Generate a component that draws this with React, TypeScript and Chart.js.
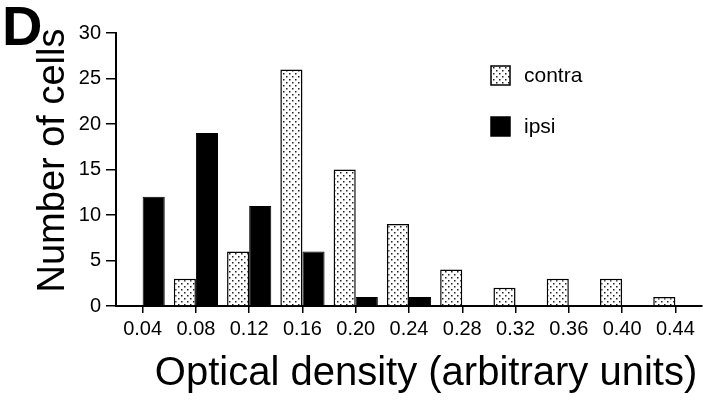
import React, { useEffect, useRef } from "react";
import { Chart, registerables } from "chart.js";

Chart.register(...registerables);

// Bin centres (optical density, arbitrary units)
const densityBins = ["0.04", "0.08", "0.12", "0.16", "0.20", "0.24", "0.28", "0.32", "0.36", "0.40", "0.44"];
// Cell counts per bin
const contraCounts = [0, 3, 6, 26, 15, 9, 4, 2, 3, 3, 1];
const ipsiCounts = [12, 19, 11, 6, 1, 1, 0, 0, 0, 0, 0];
const yTicks = [0, 5, 10, 15, 20, 25, 30];

const FONT = "'Liberation Sans', Arial, Helvetica, sans-serif";

function makeDotPattern(): CanvasPattern | string {
  const tile = document.createElement("canvas");
  tile.width = 6;
  tile.height = 6;
  const c = tile.getContext("2d");
  if (!c) return "#ddd";
  c.fillStyle = "#fff";
  c.fillRect(0, 0, 6, 6);
  c.fillStyle = "#222";
  c.fillRect(1, 1, 1.5, 1.5);
  c.fillRect(4, 4, 1.5, 1.5);
  const p = c.createPattern(tile, "repeat");
  return p || "#ddd";
}

// Panel letter, axis titles and the key
const decorPlugin = {
  id: "decor",
  afterDraw(chart: any) {
    const ctx = chart.ctx as CanvasRenderingContext2D;
    const area = chart.chartArea;
    ctx.save();
    ctx.fillStyle = "#000";

    // panel letter
    ctx.font = `bold 56px ${FONT}`;
    ctx.textAlign = "left";
    ctx.textBaseline = "alphabetic";
    ctx.fillText("D", 2, 45);

    // y title
    ctx.save();
    ctx.font = `38px ${FONT}`;
    ctx.translate(64, (area.top + area.bottom) / 2 - 9);
    ctx.rotate(-Math.PI / 2);
    ctx.textAlign = "center";
    ctx.fillText("Number of cells", 0, 0);
    ctx.restore();

    // x title
    ctx.font = `40px ${FONT}`;
    ctx.textAlign = "center";
    ctx.fillText("Optical density (arbitrary units)", 426, 385);

    // key
    const ds = chart.data.datasets;
    const rows = [
      { y: 76, d: ds[0] },
      { y: 127, d: ds[1] },
    ];
    ctx.font = `21px ${FONT}`;
    ctx.textAlign = "left";
    ctx.textBaseline = "middle";
    for (const r of rows) {
      ctx.fillStyle = r.d.backgroundColor;
      ctx.fillRect(491, r.y - 10, 19, 19);
      ctx.strokeStyle = "#000";
      ctx.lineWidth = 1.5;
      ctx.strokeRect(491, r.y - 10, 19, 19);
      ctx.fillStyle = "#000";
      ctx.fillText(r.d.label, 524, r.y);
    }
    ctx.restore();
  },
};

export default function App() {
  const canvasRef = useRef<HTMLCanvasElement | null>(null);

  useEffect(() => {
    document.body.style.margin = "0";
    const canvas = canvasRef.current;
    if (!canvas) return;
    const dots = makeDotPattern();

    const chart = new Chart(canvas, {
      type: "bar",
      data: {
        labels: densityBins,
        datasets: [
          {
            label: "contra",
            data: contraCounts,
            backgroundColor: dots as any,
            borderColor: "#000",
            borderWidth: 1.5,
            barPercentage: 1,
            categoryPercentage: 0.83,
          },
          {
            label: "ipsi",
            data: ipsiCounts,
            backgroundColor: "#000",
            borderColor: "#000",
            borderWidth: 1,
            barPercentage: 1,
            categoryPercentage: 0.83,
          },
        ],
      },
      options: {
        animation: false,
        responsive: true,
        maintainAspectRatio: false,
        layout: { padding: { top: 33, right: 3, left: 0, bottom: 0 } },
        plugins: {
          legend: { display: false },
          tooltip: { enabled: false },
        },
        scales: {
          x: {
            type: "category",
            offset: true,
            grid: {
              display: true,
              offset: false,
              drawOnChartArea: false,
              drawTicks: true,
              tickLength: 7,
              color: "#000",
              lineWidth: 1.5,
            },
            border: { display: true, color: "#000", width: 2 },
            ticks: {
              color: "#000",
              font: { family: FONT, size: 20 },
              padding: 4,
              maxRotation: 0,
              autoSkip: false,
            },
            afterFit(scale: any) {
              scale.height = 94;
            },
          },
          y: {
            min: 0,
            max: 30,
            grid: {
              display: true,
              drawOnChartArea: false,
              drawTicks: true,
              tickLength: 10,
              color: "#000",
              lineWidth: 1.5,
            },
            border: { display: true, color: "#000", width: 2 },
            afterBuildTicks(scale: any) {
              scale.ticks = yTicks.map((v) => ({ value: v }));
            },
            ticks: {
              color: "#000",
              font: { family: FONT, size: 20 },
              padding: 5,
            },
            afterFit(scale: any) {
              scale.width = 116;
            },
          },
        },
      },
      plugins: [decorPlugin],
    });

    return () => chart.destroy();
  }, []);

  return (
    <div style={{ width: 705, height: 400, position: "relative", background: "#fff" }}>
      <canvas ref={canvasRef} />
    </div>
  );
}
